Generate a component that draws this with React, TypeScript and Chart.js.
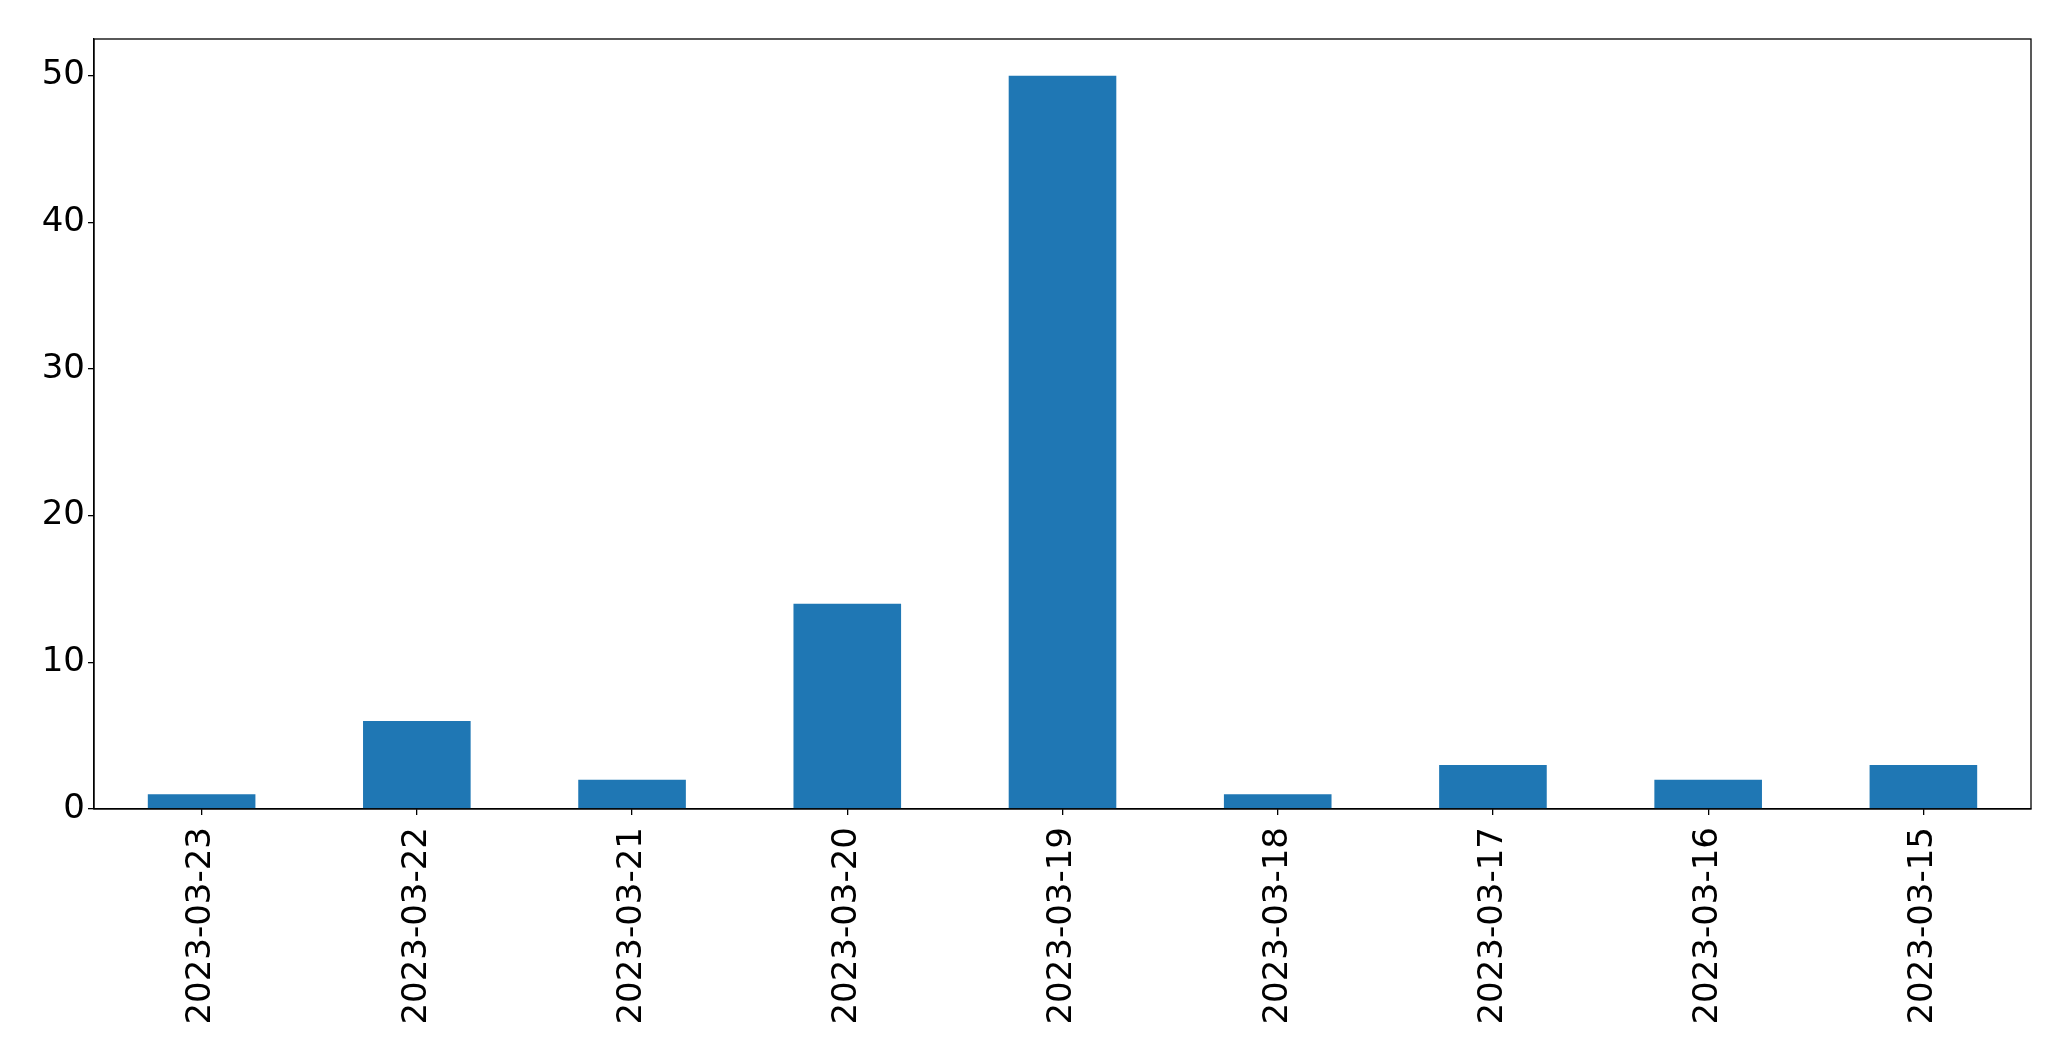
import React, { useEffect, useRef } from "react";
import { Chart, registerables } from "chart.js";

Chart.register(...registerables);

const categories = [
  "2023-03-23",
  "2023-03-22",
  "2023-03-21",
  "2023-03-20",
  "2023-03-19",
  "2023-03-18",
  "2023-03-17",
  "2023-03-16",
  "2023-03-15",
];
const values = [1, 6, 2, 14, 50, 1, 3, 2, 3];
const yTicks = [0, 10, 20, 30, 40, 50];
const yMax = 52.5;

const FONT = "'DejaVu Sans', sans-serif";

const frame = {
  id: "frame",
  afterDraw(chart: any) {
    const { ctx, chartArea } = chart;
    ctx.save();
    ctx.strokeStyle = "#000";
    ctx.lineWidth = 1.3;
    ctx.strokeRect(chartArea.left, chartArea.top, chartArea.right - chartArea.left, chartArea.bottom - chartArea.top);
    ctx.restore();
  },
};

export default function App() {
  const ref = useRef<HTMLCanvasElement>(null);
  useEffect(() => {
    document.body.style.margin = "0";
    const chart = new Chart(ref.current!, {
      type: "bar",
      data: {
        labels: categories,
        datasets: [
          {
            data: values,
            backgroundColor: "#1f77b4",
            barPercentage: 0.5,
            categoryPercentage: 1,
          },
        ],
      },
      options: {
        animation: false,
        responsive: false,
        devicePixelRatio: 1,
        layout: { padding: { top: 39, right: 40, left: 0, bottom: 0 } },
        plugins: { legend: { display: false }, tooltip: { enabled: false } },
        scales: {
          x: {
            grid: { display: true, offset: false, drawOnChartArea: false, drawTicks: true, tickLength: 6, color: "#000", lineWidth: 1.3 },
            border: { display: true, color: "#000", width: 1.3 },
            ticks: {
              color: "#000",
              font: { family: FONT, size: 34 },
              minRotation: 90,
              maxRotation: 90,
              padding: 12,
              autoSkip: false,
            },
            afterFit(scale: any) {
              scale.height = 252;
            },
          },
          y: {
            min: 0,
            max: yMax,
            afterBuildTicks(scale: any) {
              scale.ticks = yTicks.map((v) => ({ value: v }));
            },
            grid: { display: true, drawOnChartArea: false, drawTicks: true, tickLength: 6, color: "#000", lineWidth: 1.3 },
            border: { display: true, color: "#000", width: 1.3 },
            ticks: {
              color: "#000",
              font: { family: FONT, size: 34 },
              padding: 3,
            },
            afterFit(scale: any) {
              scale.width = 94;
            },
          },
        },
      },
      plugins: [frame],
    });
    return () => chart.destroy();
  }, []);
  return (
    <div style={{ position: "fixed", left: 0, top: 0, width: 2071, height: 1061, background: "#fff" }}>
      <canvas ref={ref} width={2071} height={1061} style={{ width: 2071, height: 1061 }} />
    </div>
  );
}
